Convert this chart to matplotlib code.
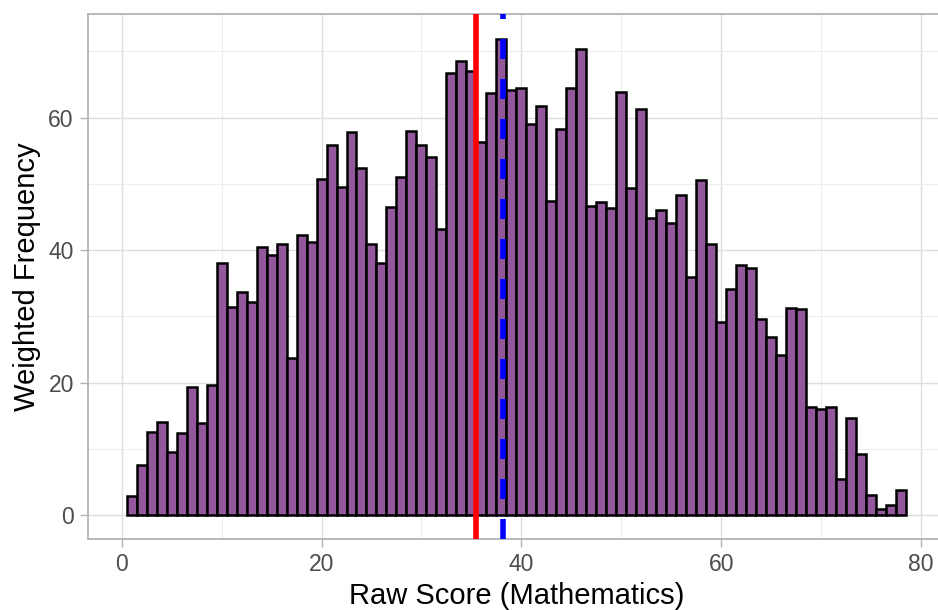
import matplotlib.pyplot as plt
import numpy as np

plt.rcParams['font.family'] = ['Liberation Sans', 'DejaVu Sans']

# weighted counts per raw score (1..78)
scores = list(range(1, 79))
weighted_freq = [
    3.0, 7.6, 12.6, 14.1, 9.6, 12.4, 19.4, 14.0, 19.6, 38.0,
    31.5, 33.7, 32.2, 40.5, 39.3, 40.9, 23.8, 42.3, 41.2, 50.7,
    55.9, 49.6, 57.8, 52.4, 41.0, 38.1, 46.5, 51.0, 57.9, 55.9,
    54.0, 43.2, 66.7, 68.6, 67.0, 56.3, 63.7, 71.8, 64.2, 64.4,
    59.0, 61.7, 47.4, 58.2, 64.5, 70.3, 46.7, 47.2, 46.3, 63.8,
    49.3, 61.3, 44.9, 46.1, 44.1, 48.3, 35.9, 50.6, 40.9, 29.1,
    34.1, 37.7, 37.3, 29.6, 26.9, 24.2, 31.3, 31.2, 16.3, 16.1,
    16.4, 5.5, 14.7, 9.3, 3.1, 1.0, 1.5, 3.8,
]
median_score = 35.5
mean_score = 38.2

fig = plt.figure(figsize=(9.38, 6.10), dpi=100)
ax = fig.add_axes([0.0935, 0.1159, 0.914, 0.861])

ax.bar(scores, weighted_freq, width=1.0, color='#93579B', edgecolor='black',
       linewidth=1.8, zorder=3)
ax.axvline(median_score, color='#FF0000', linewidth=4.0, zorder=4)
ax.axvline(mean_score, color='#0000FF', linewidth=4.0, linestyle=(0, (3.6, 3.6)), zorder=4)

ax.set_xlim(-3.4, 82.4)
ax.set_ylim(-3.6, 75.6)
ax.set_xticks([0, 20, 40, 60, 80])
ax.set_yticks([0, 20, 40, 60])
ax.set_xticks([10, 30, 50, 70], minor=True)
ax.set_yticks([10, 30, 50, 70], minor=True)

ax.grid(True, which='major', color='#DEDEDE', linewidth=1.0, zorder=0)
ax.grid(True, which='minor', color='#EDEDED', linewidth=0.8, zorder=0)
ax.set_axisbelow(True)

for side in ax.spines.values():
    side.set_color('#B3B3B3')
    side.set_linewidth(1.3)
ax.spines['right'].set_visible(False)

ax.tick_params(which='major', length=6, width=1.0, color='#B3B3B3',
               labelsize=16.5, labelcolor='#4D4D4D', pad=4)
ax.tick_params(which='minor', length=0)

ax.set_xlabel('Raw Score (Mathematics)', fontsize=21, labelpad=4)
ax.set_ylabel('Weighted Frequency', fontsize=21, labelpad=5)

fig.savefig('out.png', dpi=100)
